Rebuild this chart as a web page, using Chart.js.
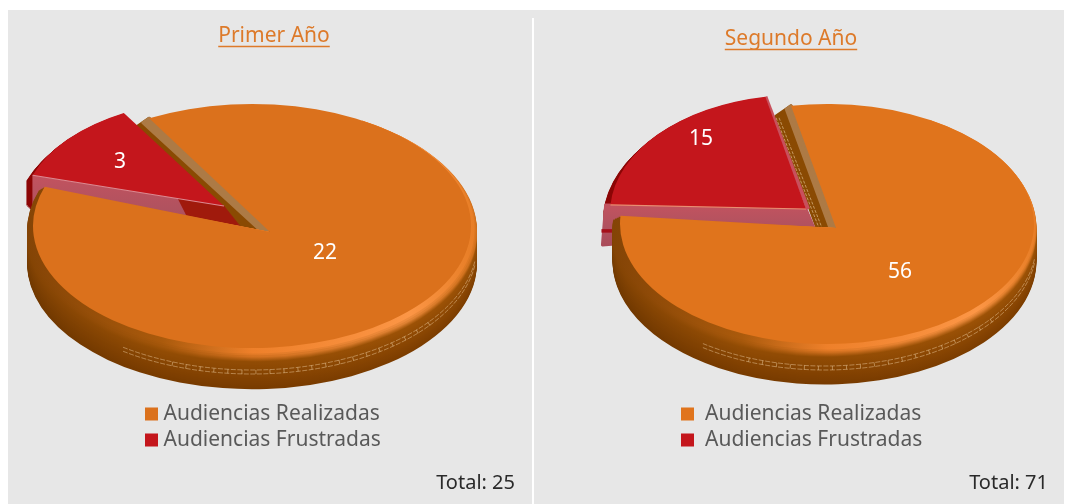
<!DOCTYPE html>
<html><head><meta charset="utf-8">
<style>
html,body{margin:0;padding:0;background:#fff;overflow:hidden}
#panel{position:absolute;left:8px;top:10px;width:1056px;height:494px;background:#e7e7e7}
#divider{position:absolute;left:532px;top:18px;width:2px;height:486px;background:#fff}
canvas{position:absolute}
</style>
<script src="https://cdn.jsdelivr.net/npm/chart.js@4/dist/chart.umd.min.js"></script>
</head><body>
<div id="panel"></div><div id="divider"></div>
<canvas id="c1" width="524" height="494" style="left:8px;top:10px"></canvas>
<canvas id="c2" width="530" height="494" style="left:534px;top:10px"></canvas>
<script>
const categories = ['Audiencias Realizadas', 'Audiencias Frustradas'];
const primerValues = [22, 3];
const segundoValues = [56, 15];
const chartTitles = ['Primer Año', 'Segundo Año'];
const totalLabels = ['Total: 25', 'Total: 71'];

const FONT = '"Noto Sans", sans-serif';
const rad = d => d * Math.PI / 180;
const lerp3 = (a, b, f) => a.map((v, i) => Math.round(v + (b[i] - v) * f));
const css = c => 'rgb(' + c.join(',') + ')';

const scenes = [{
  ox: 8, oy: 10, orangeColor: '#db711c', rotation: -28, radius: 219,
  orange: { cx: 252, cy: 226, ry: 122, ax: 270, ay: 232 },
  red: { cx: 213.5, cy: 211, rx: 191, ry: 111, ax: 224, ay: 206, shift: [16, 20], darkFrom: .76, depth: 37, pad: 0 },
  depth: 37, tan: 8, brown: 21, rimGrow: 6, rimDx: 0,
  title: [274, 36], legend: [145, 398.5], boxW: 3, total: [515, 483],
  labels: [[325, 253], [120, 162]], edgeBand: false
}, {
  ox: 534, oy: 10, orangeColor: '#e0741c', rotation: -10, radius: 207,
  orange: { cx: 827, cy: 224, ry: 120, ax: 836, ay: 228 },
  red: { cx: 798, cy: 213, rx: 188, ry: 118, ax: 806, ay: 209, shift: [8, 19], darkFrom: 2, depth: 40, pad: 8 },
  depth: 37, tan: 6, brown: 19, rimGrow: 5, rimDx: -2.5,
  title: [791, 39], legend: [675.5, 398.5], boxW: 14, total: [1048, 483],
  labels: [[900, 272], [701, 139]], edgeBand: true
}];

// Wall colour: a thin lit bevel right under the top face, then brown that darkens downward.
function wallGradient(ctx, x0, x1, d, depth) {
  const g = ctx.createLinearGradient(x0, 0, x1, 0);
  const w = Math.min(1, Math.max(0, (d - 3) / 7));   // 0 on the bevel, 1 on the plain wall
  const f = Math.max(0, (d - 10) / (depth - 10));
  const wallL = lerp3([132, 68, 4], [112, 56, 0], f);
  const wallM = lerp3([146, 76, 4], [120, 59, 0], f);
  const wallR = lerp3([156, 82, 6], [124, 61, 0], f);
  const stops = [
    [0, lerp3([132, 68, 6], wallL, w)],
    [.3, lerp3([170, 90, 12], wallM, w)],
    [.5, lerp3([238, 128, 42], wallM, w)],
    [.85, lerp3([252, 150, 70], wallR, w)],
    [1, lerp3([230, 124, 36], wallR, w)]
  ];
  stops.forEach(s => g.addColorStop(s[0], css(s[1])));
  return g;
}

const pie3d = {
  id: 'pie3d',
  afterLayout(chart, args, opts) {
    const s = opts.scene;
    const t = chart.titleBlock;
    t.left = s.title[0] - s.ox - 150; t.right = s.title[0] - s.ox + 150;
    t.top = s.title[1] - s.oy - 12.6; t.bottom = t.top + 25.2;
    const l = chart.legend;
    l.left = s.legend[0] - s.ox; l.top = s.legend[1] - s.oy; l.bottom = l.top + 70;
    const sub = chart.boxes.find(b => b !== t && b !== l && b.options && b.options.text);
    sub.left = 0; sub.right = s.total[0] - s.ox;
    sub.top = s.total[1] - s.oy - 12; sub.bottom = sub.top + 24;
  },
  beforeDatasetsDraw(chart, args, opts) {
    const s = opts.scene, ctx = chart.ctx;
    const arcs = chart.getDatasetMeta(0).data;
    const [oEl, rEl] = arcs;
    const rx = oEl.outerRadius;
    const O = Object.assign({ rx }, s.orange), R = s.red;
    const oS = oEl.startAngle, oE = oEl.endAngle, rS = rEl.startAngle, rE = rEl.endAngle;
    const pt = (g, t) => [g.cx + g.rx * Math.cos(t), g.cy + g.ry * Math.sin(t)];
    const oColor = oEl.options.backgroundColor, rColor = rEl.options.backgroundColor;
    ctx.save();
    ctx.translate(-s.ox, -s.oy);

    // back wall of the orange wedge, seen through the gap
    const p0 = pt(O, oS), apex = [O.ax, O.ay];
    const band = (w, col) => {
      ctx.beginPath();
      ctx.moveTo(p0[0], p0[1]); ctx.lineTo(apex[0], apex[1]);
      ctx.lineTo(apex[0] - w, apex[1]); ctx.lineTo(p0[0] - w + w * .2, p0[1] + w * .55);
      ctx.closePath();
      ctx.fillStyle = col; ctx.strokeStyle = col; ctx.lineJoin = 'round'; ctx.lineWidth = 3;
      ctx.fill(); ctx.stroke();
    };
    band(s.brown, '#8a4a02');
    if (s.edgeBand) {
      ctx.save();
      ctx.strokeStyle = 'rgba(235,205,160,.75)'; ctx.lineWidth = .8; ctx.setLineDash([3, 1.5]);
      [14, 17].forEach(w => {
        ctx.beginPath(); ctx.moveTo(p0[0] - w + 2, p0[1] + 12); ctx.lineTo(apex[0] - w, apex[1]); ctx.stroke();
      });
      ctx.restore();
    }
    band(s.tan, '#ad7a45');

    // red wedge: dark body, rounded off at the bottom
    ctx.fillStyle = '#8c0606';
    for (let d = R.depth; d >= 1; d--) {
      const g = Math.max(0, Math.min(d, 7, (R.depth - d) * 1.2));
      ctx.beginPath();
      ctx.moveTo(R.ax, R.ay + d);
      ctx.ellipse(R.cx, R.cy + d, R.rx + g, R.ry + g * .4, 0, rS, rE);
      ctx.closePath(); ctx.fill();
    }
    // red wedge: cut face turned to the viewer
    const rOuter = pt(R, rS), rIn = [R.ax, R.ay];
    const wg = ctx.createLinearGradient(0, Math.min(rOuter[1], rIn[1]), 0, Math.max(rOuter[1], rIn[1]) + R.depth);
    wg.addColorStop(0, '#c2535f'); wg.addColorStop(.5, '#b0525f'); wg.addColorStop(1, '#a84a58');
    const lerp = (a, b, f) => [a[0] + (b[0] - a[0]) * f, a[1] + (b[1] - a[1]) * f];
    const quad = (f0, f1, fill) => {
      const a = lerp(rOuter, rIn, f0), b = lerp(rOuter, rIn, f1);
      const a2 = [a[0] + R.shift[0] * f0, a[1] + R.depth + (R.shift[1] - R.depth) * f0];
      const b2 = [b[0] + R.shift[0] * f1, b[1] + R.depth + (R.shift[1] - R.depth) * f1];
      const padA = f0 === 0 ? R.pad : 0;
      ctx.beginPath();
      ctx.moveTo(a[0] - padA * .6, a[1]); ctx.lineTo(b[0], b[1]); ctx.lineTo(b2[0], b2[1]); ctx.lineTo(a2[0] - padA, a2[1]);
      ctx.closePath();
      ctx.fillStyle = fill; ctx.strokeStyle = fill; ctx.lineJoin = 'round'; ctx.lineWidth = padA ? 3 : .5;
      ctx.fill(); ctx.stroke();
    };
    const split = Math.min(R.darkFrom, 1);
    quad(0, split, wg);
    if (split < 1) quad(split, 1, '#a01a0c');
    if (R.pad) {
      ctx.beginPath(); ctx.moveTo(rOuter[0] - R.pad - 1, rOuter[1] + 26); ctx.lineTo(rOuter[0] + 14, rOuter[1] + 26);
      ctx.strokeStyle = '#a5101a'; ctx.lineWidth = 3.5; ctx.stroke();
    }
    // red top face
    if (s.edgeBand) {
      const p1 = pt(R, rE);
      ctx.beginPath(); ctx.moveTo(p1[0], p1[1]); ctx.lineTo(R.ax + 2, R.ay);
      ctx.strokeStyle = '#c8505c'; ctx.lineWidth = 4; ctx.stroke();
    }
    ctx.beginPath();
    ctx.moveTo(R.ax, R.ay);
    ctx.ellipse(R.cx, R.cy, R.rx, R.ry, 0, rS, rE);
    ctx.closePath();
    ctx.fillStyle = rColor; ctx.fill();
    ctx.beginPath(); ctx.moveTo(rOuter[0], rOuter[1]); ctx.lineTo(rIn[0], rIn[1]);
    ctx.strokeStyle = s.edgeBand ? '#e88f72' : '#dc8a92'; ctx.lineWidth = 1.2; ctx.stroke();

    // orange wedge: rim and outer wall (closed through the apex so nothing spills into the gap)
    const t0 = rad(-60);
    for (let d = s.depth; d >= 1; d--) {
      const g = Math.min(d * 1.2, s.rimGrow);
      const dx = s.rimDx * g / s.rimGrow;
      ctx.beginPath();
      ctx.ellipse(O.cx + dx, O.cy + d, O.rx + g, O.ry + g * .7, 0, t0, oE);
      ctx.lineTo(apex[0], apex[1]);
      ctx.closePath();
      ctx.fillStyle = wallGradient(ctx, O.cx - O.rx - 6, O.cx + O.rx + 6, d, s.depth);
      ctx.fill();
    }
    // stitching
    ctx.save();
    const sx = O.cx + s.rimDx, srx = O.rx + s.rimGrow;
    ctx.strokeStyle = 'rgba(238,205,160,.6)'; ctx.lineWidth = .8; ctx.setLineDash([5, 1.5]);
    [18, 22].forEach(d => {
      ctx.beginPath(); ctx.ellipse(sx, O.cy + d, srx, O.ry + 4, 0, rad(8), rad(125)); ctx.stroke();
    });
    ctx.setLineDash([1, 13]); ctx.lineWidth = 4;
    ctx.beginPath(); ctx.ellipse(sx, O.cy + 20, srx, O.ry + 4, 0, rad(38), rad(112));
    ctx.strokeStyle = 'rgba(238,205,160,.5)'; ctx.stroke();
    ctx.restore();

    // orange top face
    ctx.beginPath();
    ctx.moveTo(O.ax, O.ay);
    ctx.ellipse(O.cx, O.cy, O.rx, O.ry, 0, oS, oE);
    ctx.closePath();
    ctx.fillStyle = oColor; ctx.fill();

    // value labels
    ctx.fillStyle = '#fff';
    ctx.font = '21px ' + FONT;
    ctx.textAlign = 'center'; ctx.textBaseline = 'middle';
    chart.data.datasets[0].data.forEach((v, i) => ctx.fillText(String(v), s.labels[i][0], s.labels[i][1]));
    ctx.restore();
    return false;
  },
  afterDraw(chart, args, opts) {
    const s = opts.scene, ctx = chart.ctx;
    ctx.save();
    ctx.font = '21px ' + FONT;
    const w = ctx.measureText(chart.options.plugins.title.text).width;
    const x = s.title[0] - s.ox, y = s.title[1] - s.oy + 10.5;
    ctx.strokeStyle = chart.options.plugins.title.color; ctx.lineWidth = 1.5;
    ctx.beginPath(); ctx.moveTo(x - w / 2, y); ctx.lineTo(x + w / 2, y); ctx.stroke();
    ctx.restore();
  }
};

function build(id, values, idx) {
  const s = scenes[idx];
  return new Chart(document.getElementById(id), {
    type: 'pie',
    data: { labels: categories, datasets: [{ data: values, backgroundColor: [s.orangeColor, '#c4161c'], borderWidth: 0 }] },
    options: {
      responsive: false, animation: false, rotation: s.rotation, radius: s.radius,
      plugins: {
        tooltip: { enabled: false },
        title: { display: true, text: chartTitles[idx], color: '#dd7a2a', padding: 0, font: { family: FONT, size: 21, weight: 'normal' } },
        subtitle: { display: true, position: 'bottom', align: 'end', text: totalLabels[idx], color: '#2a2a2a', padding: 0, font: { family: FONT, size: 20, weight: 'normal' } },
        legend: {
          position: 'chartArea', align: 'start',
          labels: { usePointStyle: true, pointStyle: 'rect', boxWidth: s.boxW, boxHeight: 13, padding: 5, color: '#595959', font: { family: FONT, size: 21 } }
        },
        pie3d: { scene: s }
      }
    },
    plugins: [pie3d]
  });
}
build('c1', primerValues, 0);
build('c2', segundoValues, 1);
</script>
</body></html>
